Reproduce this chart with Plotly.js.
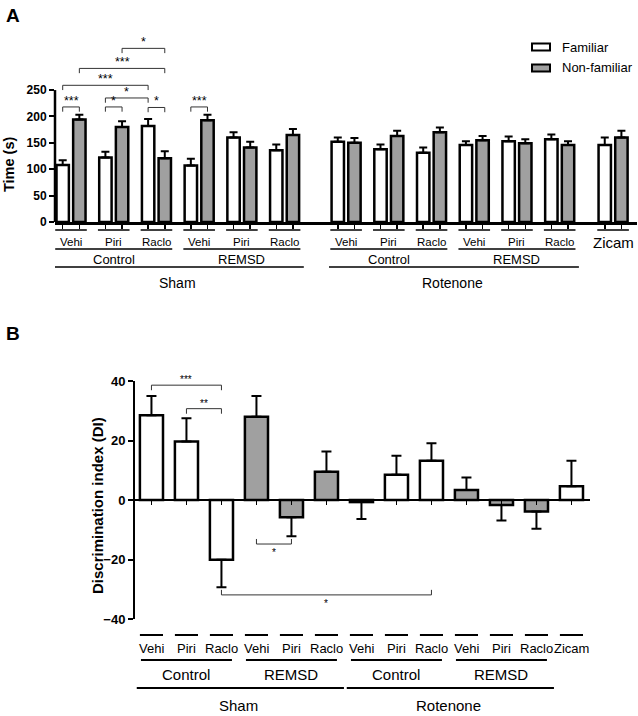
<!DOCTYPE html>
<html><head><meta charset="utf-8">
<script src="https://cdn.plot.ly/plotly-3.0.1.min.js"></script>
<style>html,body{margin:0;padding:0;background:#fff}#chart{width:638px;height:716px}</style>
</head><body><div id="chart"></div>
<script>
// ---------- data ----------
const drugs = ['Vehi','Piri','Raclo','Vehi','Piri','Raclo','Vehi','Piri','Raclo','Vehi','Piri','Raclo','Zicam'];
const conditions = ['Control','Control','Control','REMSD','REMSD','REMSD','Control','Control','Control','REMSD','REMSD','REMSD',''];
const lesions = ['Sham','Sham','Sham','Sham','Sham','Sham','Rotenone','Rotenone','Rotenone','Rotenone','Rotenone','Rotenone',''];
const seriesNames = ['Familiar','Non-familiar'];
const familiarTime = [108,122,182,107,160,136,152,138,131,146,153,157,146];
const familiarSem  = [9,11,13,13,10,11,8,9,10,7,9,9,14];
const novelTime    = [194,180,121,193,141,165,150,163,170,155,149,146,160];
const novelSem     = [9,11,13,10,11,11,9,10,9,8,8,7,13];
const diMean = [28.5,19.7,-20.1,28.0,-5.8,9.5,-0.7,8.5,13.2,3.4,-1.7,-3.9,4.6];
const diSem  = [6.5,7.8,9.2,7.0,6.4,6.8,5.7,6.4,5.9,4.2,5.2,5.8,8.6];
const yTicksA = [0,50,100,150,200,250];
const yTicksB = [-40,-20,0,20,40];
// significance brackets: [group1, series1, group2, series2, level, label]
const sigA = [
  [0,0,0,1,218,'***'],[1,0,1,1,218,'*'],[2,0,2,1,217,'*'],
  [1,0,2,0,235,'*'],[0,0,2,0,259,'***'],[0,1,2,1,291,'***'],
  [1,1,2,1,329,'*'],[3,0,3,1,218,'***']
];
// [bar1, bar2, level, label]
const sigB = [[0,2,38.6,'***'],[1,2,30.7,'**'],[3,4,-14.8,'*'],[2,8,-31.9,'*']];

// ---------- helpers ----------
const W = 638, H = 716;
const py = p => 1 - p / H;
const pxf = p => p / W;
const FONT = 'Liberation Sans, Arial, sans-serif';
const GRAY = '#a0a0a0';
const n = drugs.length;

const posA = []; let cur = 0;
for (let i = 0; i < n; i++) {
  if (i > 0) { cur += 1; if (lesions[i] !== lesions[i-1]) cur += (lesions[i] === '' ? 0.25 : 0.44); }
  posA.push(cur);
}
const posB = drugs.map((d, i) => i);
const OFF = 0.195, BW = 0.29;

function runs(keyFn) {
  const out = []; let s = 0;
  for (let i = 1; i <= n; i++) {
    if (i === n || keyFn(i) !== keyFn(s)) { if (keyFn(s) !== null) out.push([s, i-1]); s = i; }
  }
  return out;
}
const condRuns = runs(i => conditions[i] ? lesions[i] + '|' + conditions[i] : null);
const lesRuns = runs(i => lesions[i] ? lesions[i] : null);

const traces = [];
traces.push({
  type:'bar', name: seriesNames[0], x: posA, y: familiarTime, xaxis:'x', yaxis:'y',
  offset: -OFF - BW/2, width: BW, showlegend:false,
  marker:{color:'#fff', line:{color:'#000', width:2.5}},
  error_y:{type:'data', symmetric:false, array: familiarSem, arrayminus: familiarSem.map(()=>0), color:'#000', thickness:2, width:4}
});
traces.push({
  type:'bar', name: seriesNames[1], x: posA, y: novelTime, xaxis:'x', yaxis:'y',
  offset: OFF - BW/2, width: BW, showlegend:false,
  marker:{color:GRAY, line:{color:'#000', width:2.5}},
  error_y:{type:'data', symmetric:false, array: novelSem, arrayminus: novelSem.map(()=>0), color:'#000', thickness:2, width:4}
});
traces.push({
  type:'bar', name:'DI', x: posB, y: diMean, xaxis:'x2', yaxis:'y2', width: 0.66, showlegend:false,
  marker:{color: conditions.map(c => c === 'REMSD' ? GRAY : '#fff'), line:{color:'#000', width:2.5}},
  error_y:{type:'data', symmetric:false,
    array: diMean.map((m,i) => m >= 0 ? diSem[i] : 0),
    arrayminus: diMean.map((m,i) => m < 0 ? diSem[i] : 0),
    color:'#000', thickness:2, width:5}
});

const shapes = [], ann = [];
function txt(o) { return Object.assign({showarrow:false, xanchor:'center', yanchor:'middle'}, o); }
// y-axis line of panel A (0..250)
shapes.push({type:'line', xref:'x domain', yref:'y', x0:0, x1:0, y0:0, y1:250, line:{color:'#000', width:2.5}});

// Panel A category labels
for (let i = 0; i < n; i++) {
  shapes.push({type:'line', xref:'x', yref:'paper', x0:posA[i]-0.37, x1:posA[i]+0.37, y0:py(230), y1:py(230), line:{color:'#000', width:1.5}});
  ann.push(txt({xref:'x', yref:'paper', x:posA[i], y:py(242), text:drugs[i], font:{size: drugs[i]==='Zicam'?15:11.5, family:FONT, color:'#000'}}));
}
condRuns.forEach(([s,e]) => {
  shapes.push({type:'line', xref:'x', yref:'paper', x0:posA[s]-0.37, x1:posA[e]+0.37, y0:py(249), y1:py(249), line:{color:'#000', width:1.5}});
  ann.push(txt({xref:'x', yref:'paper', x:(posA[s]+posA[e])/2, y:py(259), text:conditions[s], font:{size:13, family:FONT, color:'#000'}}));
});
lesRuns.forEach(([s,e]) => {
  shapes.push({type:'line', xref:'x', yref:'paper', x0:posA[s]-0.4, x1:posA[e]+0.45, y0:py(267), y1:py(267), line:{color:'#000', width:1.5}});
  ann.push(txt({xref:'x', yref:'paper', x:(posA[s]+posA[e])/2, y:py(283), text:lesions[s], font:{size:14, family:FONT, color:'#000'}}));
});

// Panel B category labels
for (let i = 0; i < n; i++) {
  shapes.push({type:'line', xref:'x2', yref:'paper', x0:posB[i]-0.33, x1:posB[i]+0.33, y0:py(635), y1:py(635), line:{color:'#000', width:2}});
  ann.push(txt({xref:'x2', yref:'paper', x:posB[i], y:py(648), text:drugs[i], font:{size:13, family:FONT, color:'#000'}}));
}
condRuns.forEach(([s,e]) => {
  shapes.push({type:'line', xref:'x2', yref:'paper', x0:posB[s]-0.3, x1:posB[e]+0.3, y0:py(660), y1:py(660), line:{color:'#000', width:2}});
  ann.push(txt({xref:'x2', yref:'paper', x:(posB[s]+posB[e])/2, y:py(674), text:conditions[s], font:{size:15, family:FONT, color:'#000'}}));
});
lesRuns.forEach(([s,e]) => {
  shapes.push({type:'line', xref:'x2', yref:'paper', x0:posB[s]-0.42, x1:posB[e]+0.5, y0:py(688), y1:py(688), line:{color:'#000', width:2}});
  ann.push(txt({xref:'x2', yref:'paper', x:(posB[s]+posB[e])/2, y:py(705), text:lesions[s], font:{size:15, family:FONT, color:'#000'}}));
});

// significance brackets A
sigA.forEach(([g1,s1,g2,s2,lv,lab]) => {
  const x1 = posA[g1] + (s1 ? OFF : -OFF), x2 = posA[g2] + (s2 ? OFF : -OFF), d = 9;
  shapes.push({type:'path', xref:'x', yref:'y', path:`M${x1},${lv-d} L${x1},${lv} L${x2},${lv} L${x2},${lv-d}`, line:{color:'#333', width:1}});
  ann.push(txt({xref:'x', yref:'y', x:(x1+x2)/2, y:lv, yanchor:'bottom', yshift:-3, text:lab, font:{size:12.5, family:FONT, color:'#000'}}));
});
// significance brackets B
sigB.forEach(([b1,b2,lv,lab]) => {
  const x1 = posB[b1], x2 = posB[b2], up = lv > 0, d = up ? 1.7 : -1.7;
  shapes.push({type:'path', xref:'x2', yref:'y2', path:`M${x1},${lv-d} L${x1},${lv} L${x2},${lv} L${x2},${lv-d}`, line:{color:'#333', width:1}});
  ann.push(txt({xref:'x2', yref:'y2', x:(x1+x2)/2, y:lv, yanchor: up ? 'bottom' : 'top', yshift: up ? -2 : -1, text:lab, font:{size:10, family:FONT, color:'#000'}}));
});

// legend (manual)
seriesNames.forEach((nm, k) => {
  const yc = 47 + k*21;
  shapes.push({type:'rect', xref:'paper', yref:'paper', x0:pxf(532), x1:pxf(550), y0:py(yc-3.5), y1:py(yc+3.5), fillcolor: k ? GRAY : '#fff', line:{color:'#000', width:2}});
  ann.push(txt({xref:'paper', yref:'paper', x:pxf(560), y:py(yc), xanchor:'left', text:nm, font:{size:13, family:FONT, color:'#000'}}));
});

// panel letters & y titles
ann.push(txt({xref:'paper', yref:'paper', x:pxf(4), y:py(3), xanchor:'left', yanchor:'top', text:'<b>A</b>', font:{size:19, family:FONT, color:'#000'}}));
ann.push(txt({xref:'paper', yref:'paper', x:pxf(4), y:py(321), xanchor:'left', yanchor:'top', text:'<b>B</b>', font:{size:19, family:FONT, color:'#000'}}));
ann.push(txt({xref:'paper', yref:'paper', x:pxf(9), y:py(164), textangle:-90, text:'<b>Time (s)</b>', font:{size:14.5, family:FONT, color:'#000'}}));
ann.push(txt({xref:'paper', yref:'paper', x:pxf(98), y:py(506), textangle:-90, text:'<b>Discrimination index (DI)</b>', font:{size:15, family:FONT, color:'#000'}}));

const yB0 = py(619), yB1 = py(381);
const layout = {
  width: W, height: H, margin:{l:0, r:0, t:0, b:0},
  paper_bgcolor:'#fff', plot_bgcolor:'rgba(0,0,0,0)',
  barmode:'overlay', showlegend:false,
  font:{family:FONT, color:'#000'},
  xaxis:{domain:[pxf(55), pxf(637)], range:[posA[0]-0.375, posA[n-1]+0.56], anchor:'y',
    tickvals: posA.flatMap(p => [p-OFF, p+OFF]), ticks:'outside', ticklen:4, tickwidth:1.5, tickcolor:'#000',
    showticklabels:false, showline:true, linewidth:2.5, linecolor:'#000', showgrid:false, zeroline:false, fixedrange:true},
  yaxis:{domain:[py(222), py(32)], range:[0,360], anchor:'x', tickvals:yTicksA, ticks:'outside', ticklen:5, tickwidth:2, tickcolor:'#000',
    tickfont:{size:12, family:FONT, weight:'bold', color:'#000'}, showline:false, showgrid:false, zeroline:false, fixedrange:true},
  xaxis2:{domain:[pxf(135), pxf(590)], range:[-0.47, n-1+0.53], anchor:'free', position:(yB0+yB1)/2,
    tickvals: posB, ticks:'outside', ticklen:4, tickwidth:1.5, tickcolor:'#000',
    showticklabels:false, showline:true, linewidth:2, linecolor:'#000', showgrid:false, zeroline:false, fixedrange:true},
  yaxis2:{domain:[yB0, yB1], range:[-40,40], anchor:'x2', tickvals:yTicksB, ticks:'outside', ticklen:5, tickwidth:2, tickcolor:'#000',
    tickfont:{size:13, family:FONT, weight:'bold', color:'#000'}, showline:true, linewidth:2, linecolor:'#000', showgrid:false, zeroline:false, fixedrange:true},
  shapes: shapes, annotations: ann
};
Plotly.newPlot('chart', traces, layout, {staticPlot:true, displayModeBar:false});
</script></body></html>
